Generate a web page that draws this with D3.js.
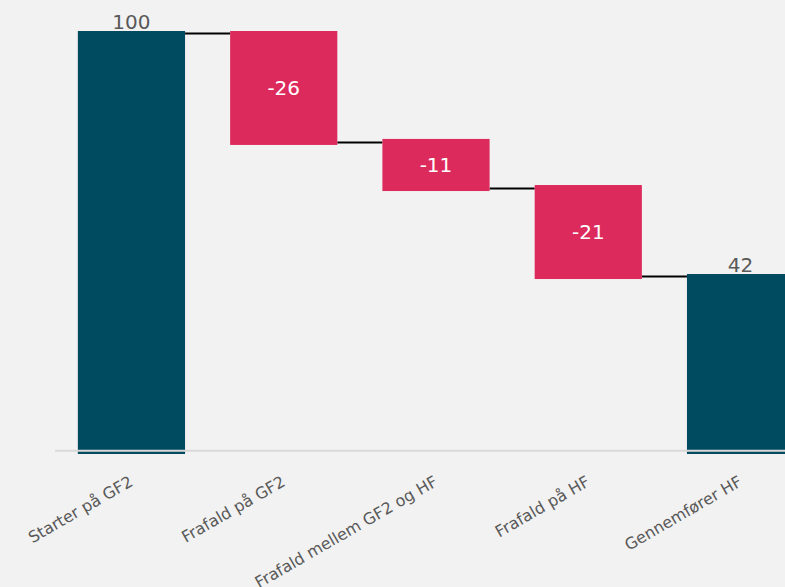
<!DOCTYPE html>
<html><head><meta charset="utf-8">
<script src="https://cdn.jsdelivr.net/npm/d3@7"></script>
<style>html,body{margin:0;padding:0;background:#f2f2f2;overflow:hidden}</style>
</head><body>
<svg id="c" width="785" height="587"></svg>
<script>
const categories = ["Starter på GF2","Frafald på GF2","Frafald mellem GF2 og HF","Frafald på HF","Gennemfører HF"];
const values = [100, -26, -11, -21, 42];
const kinds = ["total","delta","delta","delta","total"];

const svg = d3.select("#c");
svg.append("rect").attr("width",785).attr("height",587).attr("fill","#f2f2f2");

const x = d3.scaleBand().domain(categories).range([55,817]).paddingInner(0.296).paddingOuter(0.15);
const y = d3.scaleLinear().domain([0,100]).range([450,31]);

let run = 0;
const segs = categories.map((c,i)=>{
  let y0,y1;
  if(kinds[i]==="total"){ y0=0; y1=values[i]; run=values[i]; }
  else { y0=run; y1=run+values[i]; run=y1; }
  return {c, v:values[i], kind:kinds[i], lo:Math.min(y0,y1), hi:Math.max(y0,y1), end:run};
});

// connectors
for(let i=0;i<segs.length-1;i++){
  const ly = y(segs[i].end)+2.5;
  svg.append("line")
    .attr("x1", x(segs[i].c)+x.bandwidth()).attr("x2", x(segs[i+1].c))
    .attr("y1", ly).attr("y2", ly)
    .attr("stroke","#000").attr("stroke-width",2);
}

const top_ = d=> d.kind==="total" ? y(d.hi) : Math.max(31, y(d.hi)-1);
const bot_ = d=> d.kind==="total" ? y(0)+4 : y(d.lo)+5;

svg.selectAll("rect.bar").data(segs).enter().append("rect")
  .attr("class","bar")
  .attr("x", d=>x(d.c)).attr("width", x.bandwidth())
  .attr("y", top_).attr("height", d=>bot_(d)-top_(d))
  .attr("fill", d=>d.kind==="total" ? "#004b5f" : "#dd2a5d");

// baseline
svg.append("line").attr("x1",55).attr("x2",785).attr("y1",450.8).attr("y2",450.8)
  .attr("stroke","#d9d9d9").attr("stroke-width",2);

// value labels
segs.forEach(d=>{
  if(d.kind==="total"){
    svg.append("text").attr("x", x(d.c)+x.bandwidth()/2).attr("y", top_(d)-2)
      .attr("text-anchor","middle").attr("font-family","DejaVu Sans, Verdana, sans-serif")
      .attr("font-size",20).attr("fill","#595959").text(d.v);
  } else {
    svg.append("text").attr("x", x(d.c)+x.bandwidth()/2).attr("y", (top_(d)+bot_(d))/2)
      .attr("dy","0.35em")
      .attr("text-anchor","middle").attr("font-family","DejaVu Sans, Verdana, sans-serif")
      .attr("font-size",20).attr("fill","#ffffff").text(d.v);
  }
});

// axis labels
categories.forEach(c=>{
  const cx = x(c)+x.bandwidth()/2;
  svg.append("text")
    .attr("transform",`translate(${cx-3},${475}) rotate(-30)`)
    .attr("text-anchor","end").attr("dy","0.71em")
    .attr("font-family","DejaVu Sans, Verdana, sans-serif").attr("font-size",16)
    .attr("fill","#595959").text(c);
});
</script>
</body></html>
